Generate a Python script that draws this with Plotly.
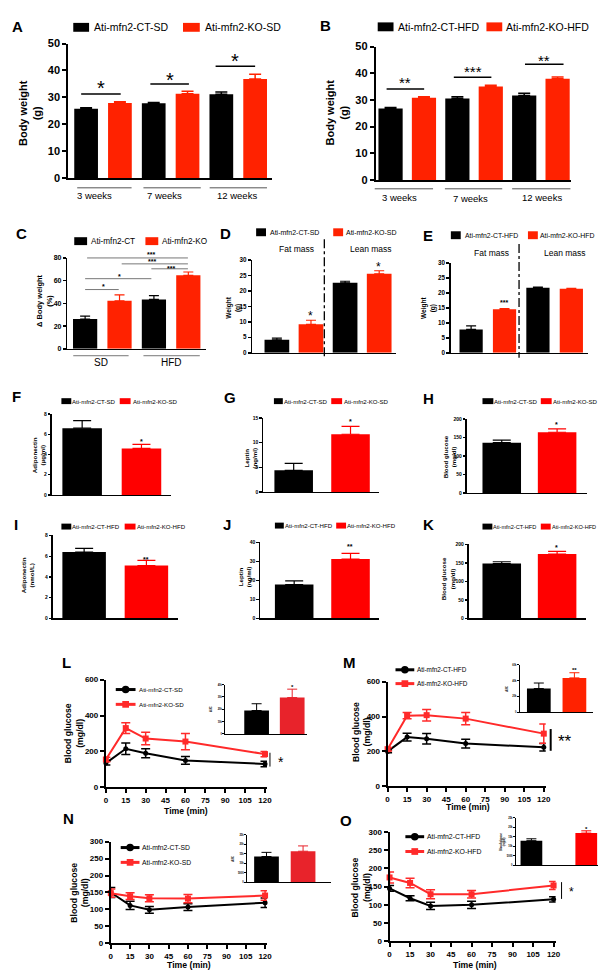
import plotly.graph_objects as go

# ---------------- data ----------------
week_labels = ["3 weeks", "7 weeks", "12 weeks"]
A_ct = [25.8, 27.8, 31.2]
A_ct_err = [0.3, 0.3, 0.8]
A_ko = [27.9, 31.3, 36.8]
A_ko_err = [0.5, 1.0, 1.8]
A_sig = ["*", "*", "*"]

B_ct = [26.8, 30.5, 31.7]
B_ct_err = [0.4, 0.7, 0.8]
B_ko = [30.8, 35.0, 37.9]
B_ko_err = [0.4, 0.5, 0.7]
B_sig = ["**", "***", "**"]

diet_labels = ["SD", "HFD"]
C_ct = [26.2, 43.5]
C_ct_err = [2.6, 3.4]
C_ko = [42.3, 64.7]
C_ko_err = [5.2, 2.9]

mass_labels = ["Fat mass", "Lean mass"]
D_ct = [4.2, 22.6]
D_ct_err = [0.5, 0.5]
D_ko = [9.2, 25.5]
D_ko_err = [1.3, 1.0]
D_sig = ["*", "*"]
E_ct = [7.8, 21.7]
E_ct_err = [1.2, 0.2]
E_ko = [14.5, 21.4]
E_ko_err = [0.2, 0.1]
E_sig = ["***", ""]

F_vals = [6.6, 4.6]
F_err = [0.75, 0.4]
G_vals = [4.4, 11.7]
G_err = [1.4, 1.6]
H_vals = [136, 164]
H_err = [7, 9]
I_vals = [6.4, 5.1]
I_err = [0.35, 0.5]
J_vals = [17.8, 31.2]
J_err = [1.9, 3.0]
K_vals = [148, 174]
K_err = [5, 7]

time_min = [0, 15, 30, 60, 120]
L_ct = [135, 215, 190, 150, 130]
L_ct_err = [10, 32, 25, 22, 15]
L_ko = [155, 330, 272, 255, 185]
L_ko_err = [12, 30, 35, 45, 15]
L_auc = [19000, 29500]
L_auc_err = [5500, 6800]

M_ct = [200, 282, 273, 245, 224]
M_ct_err = [8, 22, 30, 25, 22]
M_ko = [213, 405, 408, 388, 302]
M_ko_err = [10, 18, 33, 35, 55]
M_auc = [30000, 43500]
M_auc_err = [7000, 6500]

N_ct = [150, 112, 99, 107, 120]
N_ct_err = [15, 12, 10, 10, 14]
N_ko = [148, 139, 133, 132, 141]
N_ko_err = [12, 10, 10, 12, 14]
N_auc = [13500, 16300]
N_auc_err = [2200, 2800]

O_ct = [145, 118, 97, 100, 115]
O_ct_err = [8, 7, 10, 10, 7]
O_ko = [175, 160, 129, 129, 153]
O_ko_err = [15, 13, 12, 10, 11]
O_auc = [13000, 17000]
O_auc_err = [1000, 1200]

# ---------------- helpers ----------------
W, H = 606, 970
FONT = "Liberation Sans, Arial, Helvetica, sans-serif"
RED = "#FF2200"
RED2 = "#FF0000"

fig = go.Figure()
layout = {}
shapes = []
annotations = []


def PX(x):
    return x / W


def PY(y):
    return 1 - y / H


def add_axes(n, axx, axy, xr, yr, lw=1.5, ytickvals=None, yfs=6, ticklen=3,
             xtickvals=None, xfs=6, yticktext=None):
    xa = "xaxis" if n == 1 else "xaxis%d" % n
    ya = "yaxis" if n == 1 else "yaxis%d" % n
    xs = "x" if n == 1 else "x%d" % n
    ys = "y" if n == 1 else "y%d" % n
    xd = dict(domain=[PX(axx[0]), PX(axx[1])], range=xr, anchor=ys,
              showgrid=False, zeroline=False, showline=True, linecolor="black",
              linewidth=lw, fixedrange=True)
    if xtickvals is None:
        xd.update(ticks="", showticklabels=False)
    else:
        xd.update(ticks="outside", tickvals=xtickvals, ticklen=ticklen,
                  tickwidth=lw, tickcolor="black",
                  tickfont=dict(size=xfs, family=FONT, color="black", weight="bold"))
    yd = dict(domain=[PY(axy[0]), PY(axy[1])], range=yr, anchor=xs,
              showgrid=False, zeroline=False, showline=True, linecolor="black",
              linewidth=lw, fixedrange=True, ticks="outside", tickvals=ytickvals,
              ticklen=ticklen, tickwidth=lw, tickcolor="black",
              tickfont=dict(size=yfs, family=FONT, color="black", weight="bold"))
    if yticktext is not None:
        yd["ticktext"] = yticktext
    layout[xa] = xd
    layout[ya] = yd
    return xs, ys


def bar_panel(n, axx, axy, c0, pitch, wpx, yr, ytv, ct_pos, ct, ct_err, ko_pos, ko,
              ko_err, ko_color, lw=1.5, yfs=6, ticklen=3, cap=4, eth=1.5):
    xr = [(axx[0] - c0) / pitch, (axx[1] - c0) / pitch]
    xs, ys = add_axes(n, axx, axy, xr, yr, lw=lw, ytickvals=ytv, yfs=yfs, ticklen=ticklen)
    for pos, vals, errs, col in ((ct_pos, ct, ct_err, "black"), (ko_pos, ko, ko_err, ko_color)):
        fig.add_trace(go.Bar(
            x=pos, y=vals, width=wpx / pitch, marker=dict(color=col, line=dict(width=0)),
            error_y=dict(type="data", symmetric=False, array=errs,
                         arrayminus=[0] * len(errs), color=col, thickness=eth, width=cap),
            xaxis=xs, yaxis=ys, showlegend=False, hoverinfo="skip"))
    return xs, ys


def txt(x, y, s, fs, xanchor="center", bold=False, angle=0, color="black"):
    annotations.append(dict(
        x=PX(x), y=PY(y), xref="paper", yref="paper", text=s, showarrow=False,
        textangle=angle, xanchor=xanchor, yanchor="middle", borderpad=0,
        font=dict(size=fs, family=FONT, color=color, weight="bold" if bold else "normal")))


def star(x, y, s, fs, bold=False):
    txt(x, y + 0.23 * fs, s, fs, bold=bold)


def hline(x0, x1, y, color="black", w=1.0, dash="solid"):
    shapes.append(dict(type="line", xref="paper", yref="paper", x0=PX(x0), x1=PX(x1),
                       y0=PY(y), y1=PY(y), line=dict(color=color, width=w, dash=dash)))


def vline(x, y0, y1, color="black", w=1.0, dash="solid"):
    shapes.append(dict(type="line", xref="paper", yref="paper", x0=PX(x), x1=PX(x),
                       y0=PY(y0), y1=PY(y1), line=dict(color=color, width=w, dash=dash)))


def rect(x0, x1, y0, y1, color):
    shapes.append(dict(type="rect", xref="paper", yref="paper", x0=PX(x0), x1=PX(x1),
                       y0=PY(y0), y1=PY(y1), fillcolor=color, line=dict(width=0)))


def leg_bar(xb0, xb1, xt, y, h, color, label, fs):
    rect(xb0, xb1, y - h / 2, y + h / 2, color)
    txt(xt, y, label, fs, xanchor="left")


def leg_line(x0, x1, y, color, sym, label, xt, fs, r=3.5, lw=3):
    hline(x0, x1, y, color=color, w=lw)
    cx = (x0 + x1) / 2
    shapes.append(dict(type="circle" if sym == "circle" else "rect", xref="paper", yref="paper",
                       x0=PX(cx - r), x1=PX(cx + r), y0=PY(y - r), y1=PY(y + r),
                       fillcolor=color, line=dict(width=0)))
    txt(xt, y, label, fs, xanchor="left")


def line_panel(n, axx, axy, xr, yr, ytv, ct, ct_err, ko, ko_err, ko_color, fs=8, msz=5):
    xs, ys = add_axes(n, axx, axy, xr, yr, lw=2, ytickvals=ytv, yfs=fs, ticklen=4,
                      xtickvals=[0, 15, 30, 45, 60, 75, 90, 105, 120], xfs=fs)
    for vals, errs, col, sym, sz in ((ct, ct_err, "black", "circle", msz),
                                     (ko, ko_err, ko_color, "square", msz + 1)):
        fig.add_trace(go.Scatter(
            x=time_min, y=vals, mode="lines+markers", cliponaxis=False,
            line=dict(color=col, width=2), marker=dict(color=col, symbol=sym, size=sz),
            error_y=dict(type="data", array=errs, color=col, thickness=1.5, width=4.5),
            xaxis=xs, yaxis=ys, showlegend=False, hoverinfo="skip"))
    return xs, ys


# ---------------- Panel A ----------------
txt(8, 13, "A", 15, bold=True)
bar_panel(1, (59, 265), (166, 30), 77, 34.2, 24, [0, 50], [0, 10, 20, 30, 40, 50],
          [0, 2, 4], A_ct, A_ct_err, [1, 3, 5], A_ko, A_ko_err, RED,
          lw=2, yfs=11, ticklen=4, cap=6, eth=1.5)
leg_bar(64, 80, 84, 13.5, 9, "black", "Ati-mfn2-CT-SD", 10.5)
leg_bar(175, 192, 196, 13.5, 9, RED, "Ati-mfn2-KO-SD", 10.5)
txt(19.5, 100, "Body weight<br>(g)", 11, bold=True, angle=-90)
for (x0, x1), lab, lx in zip([(68, 123), (135, 193), (202, 260)], week_labels, [85, 156, 230]):
    hline(x0, x1, 176, color="#555555", w=1)
    txt(lx, 184, lab, 9.5)
for (x0, x1, ly), s, sy in zip([(72, 112, 81), (142, 181, 71), (208, 248, 53)], A_sig, [70, 62, 43]):
    hline(x0, x1, ly, w=1.5)
    star((x0 + x1) / 2, sy, s, 20)

# ---------------- Panel B ----------------
txt(319, 12, "B", 15, bold=True)
bar_panel(2, (370, 568), (168, 33), 385, 33.8, 24.5, [0, 50], [0, 10, 20, 30, 40, 50],
          [0, 2, 4], B_ct, B_ct_err, [1, 3, 5], B_ko, B_ko_err, RED,
          lw=2, yfs=11, ticklen=4, cap=6, eth=1.5)
leg_bar(372, 388, 392, 13, 9, "black", "Ati-mfn2-CT-HFD", 10.5)
leg_bar(482, 498, 501, 13, 9, RED, "Ati-mfn2-KO-HFD", 10.5)
txt(330.5, 100, "Body weight<br>(g)", 11, bold=True, angle=-90)
for (x0, x1), lab, lx, ly in zip([(369, 428), (440, 498), (508, 567)], week_labels,
                                 [394, 466, 538], [186, 187, 186]):
    hline(x0, x1, 177, color="#555555", w=1)
    txt(lx, ly, lab, 9.5)
for (x0, x1, ly), s, sy in zip([(381, 419, 76), (449, 487, 64), (521, 560, 51)], B_sig, [66, 55, 44]):
    hline(x0, x1, ly, w=1.5)
    star((x0 + x1) / 2, sy, s, 15)

# ---------------- Panel C ----------------
txt(12, 222, "C", 15, bold=True)
bar_panel(3, (58, 198), (339, 247), 76, 34.8, 24.5, [0, 80], [0, 20, 40, 60, 80],
          [0, 2], C_ct, C_ct_err, [1, 3], C_ko, C_ko_err, RED,
          lw=1.5, yfs=7, ticklen=3, cap=5, eth=1.2)
leg_bar(65, 78, 81, 230, 8, "black", "Ati-mfn2-CT", 8.2)
leg_bar(137, 150, 153, 230, 8, RED, "Ati-mfn2-KO", 8.2)
txt(35, 290, "Δ Body weight<br>(%)", 7.5, bold=True, angle=-90)
for (x0, x1), lab, lx in zip([(64, 120), (135, 192)], diet_labels, [92, 163]):
    hline(x0, x1, 346, color="#777777", w=1)
    txt(lx, 353, lab, 10)
for x0, x1, ly, s, sx, sy in [(78, 180, 247, "***", 143, 242), (113, 180, 253, "***", 144, 249),
                              (143, 180, 258, "***", 163, 256), (76, 143, 268, "*", 111, 264),
                              (76, 110, 279, "*", 95, 274)]:
    hline(x0, x1, ly, color="#777777", w=1)
    star(sx, sy, s, 7, bold=True)

# ---------------- Panel D ----------------
txt(218, 222, "D", 15, bold=True)
bar_panel(4, (245, 391), (343, 249), 270, 34.5, 25, [0, 30], [0, 5, 10, 15, 20, 25, 30],
          [0, 2], D_ct, D_ct_err, [1, 3], D_ko, D_ko_err, RED,
          lw=1.5, yfs=6.3, ticklen=3, cap=5, eth=1.2)
leg_bar(249, 259, 262, 221, 8, "black", "Ati-mfn2-CT-SD", 7)
leg_bar(327, 337, 339, 221, 8, RED, "Ati-mfn2-KO-SD", 7)
txt(226, 297, "Weight<br>(g)", 6.5, bold=True, angle=-90)
vline(318, 228, 348, w=1.3, dash="dashdot")
for lab, lx in zip(mass_labels, [290, 365]):
    txt(lx, 238, lab, 8.5)
for s, sx, sy in zip(D_sig, [304, 373], [303, 253]):
    star(sx, sy, s, 12)

# ---------------- Panel E ----------------
txt(423, 224, "E", 15, bold=True)
bar_panel(5, (446, 585), (343, 252), 466.5, 33.8, 23.5, [0, 30], [0, 5, 10, 15, 20, 25, 30],
          [0, 2], E_ct, E_ct_err, [1, 3], E_ko, E_ko_err, RED,
          lw=1.5, yfs=6.3, ticklen=3, cap=5, eth=1.2)
leg_bar(446, 456, 459, 224, 8, "black", "Ati-mfn2-CT-HFD", 6.9)
leg_bar(524, 534, 535, 224, 8, RED, "Ati-mfn2-KO-HFD", 6.9)
txt(423.5, 298, "Weight<br>(g)", 6.5, bold=True, angle=-90)
vline(515, 233, 348, w=1.3, dash="dashdot")
for lab, lx in zip(mass_labels, [487, 561]):
    txt(lx, 242, lab, 8.5)
for s, sx, sy in zip(E_sig, [499.5, 568], [291, 270]):
    if s:
        star(sx, sy, s, 7, bold=True)

# ---------------- Panels F-K ----------------
small = [
    # n, letter, lx, ly, axx, axy, c0, pitch, wpx, yr, ticks, vals, err, ko_col, leg, title, tx, ty, sig, sx, sy
    (6, "F", 7, 387, (42, 163), (487, 405), 73, 60, 40, [0, 8], [0, 2, 4, 6, 8], F_vals, F_err,
     RED2, (52, 62, 62, 111, 122, 123, 392, "SD", 6.1), "Adiponectin<br>(µg/ml)", 29, 447, "*", 133, 431),
    (7, "G", 223, 388, (256, 373), (484, 409), 287, 57.5, 39, [0, 15], [0, 5, 10, 15], G_vals, G_err,
     RED2, (267, 276, 276, 325, 336, 337, 392, "SD", 6.1), "Leptin<br>(ng/ml)", 243, 450, "*", 344, 411),
    (8, "H", 423, 389, (462, 584), (485, 410), 497.5, 56, 39, [0, 200], [0, 50, 100, 150, 200], H_vals,
     H_err, RED2, (478, 489, 489, 537, 548, 548, 392, "SD", 6.1), "Blood glucose<br>(mg/dl)", 445, 448,
     "*", 553, 414),
    (9, "I", 6, 517, (43, 170), (612, 528), 75, 63, 44, [0, 8], [0, 2, 4, 6, 8], I_vals, I_err,
     RED2, (52, 62, 62, 116, 127, 127, 519, "HFD", 6.1), "Adiponectin<br>(nmol/L)", 18.5, 568, "**", 138, 551),
    (10, "J", 220, 517, (253, 373), (612, 535), 287.5, 57, 39, [0, 40], [0, 10, 20, 30, 40], J_vals,
     J_err, RED2, (268, 277, 277, 330, 340, 340, 518, "HFD", 6.1), "Leptin<br>(ng/ml)", 238, 570, "**",
     344, 538),
    (11, "K", 423, 517, (464, 583), (612, 537), 497.5, 56, 39, [0, 200], [0, 50, 100, 150, 200], K_vals,
     K_err, RED2, (478, 488, 488, 537, 547, 547, 519, "HFD", 5.6), "Blood glucose<br>(mg/dl)", 443.5, 572,
     "*", 553, 539),
]
for (n, letter, lx, ly, axx, axy, c0, pitch, wpx, yr, ticks, vals, err, kcol, leg, title, tx, ty,
     sig, sx, sy) in small:
    txt(lx, ly, letter, 15, bold=True)
    bar_panel(n, axx, axy, c0, pitch, wpx, yr, ticks, [0], vals[:1], err[:1], [1], vals[1:],
              err[1:], kcol, lw=1.3, yfs=5, ticklen=2.5, cap=9, eth=1.2)
    b0, b1, t0, r0, r1, t1, yy, diet, lfs = leg
    leg_bar(b0, b1, t0, yy, 6, "black", "Ati-mfn2-CT-" + diet, lfs)
    leg_bar(r0, r1, t1, yy, 6, kcol, "Ati-mfn2-KO-" + diet, lfs)
    txt(tx, ty, title, 6.2, bold=True, angle=-90)
    star(sx, sy, sig, 7, bold=True)

# ---------------- Panels L-O ----------------
auc_ticks = {
    "L": [0, 10000, 20000, 30000, 40000],
    "M": [0, 20000, 40000, 60000],
    "N": [0, 5000, 10000, 15000, 20000, 25000],
    "O": [0, 5000, 10000, 15000, 20000, 25000],
}
lines = [
    ("L", 57, 657, 12, (97, 260), (783, 674), [0, 600], [0, 200, 400, 600], L_ct, L_ct_err, L_ko,
     L_ko_err, "#FF2A2A", 65, 728, 178, 807, (107, 127, 130, 684, 699, 6.2, "SD"),
     (13, (218, 300), (729, 679), 249.5, 36, 25, 40000, L_auc, L_auc_err, "#E8232B", "*", 285.5, 680, "AUC")),
    ("M", 343, 657, 14, (382, 542), (782, 676), [0, 600], [0, 200, 400, 600], M_ct, M_ct_err, M_ko,
     M_ko_err, "#FF2A2A", 355, 727, 463, 803, (390, 409, 411, 664, 678, 6.4, "HFD"),
     (15, (516, 590), (707, 659), 535, 36, 24, 60000, M_auc, M_auc_err, RED, "**", 571, 663, "AUC")),
    ("N", 59, 815, 16, (102, 260), (941, 838), [0, 300], [0, 50, 100, 150, 200, 250, 300], N_ct,
     N_ct_err, N_ko, N_ko_err, "#FF2A2A", 70.5, 890, 181, 963, (112, 131, 133, 844, 859, 6.8, "SD"),
     (17, (240, 325), (879, 831), 259.5, 37, 25, 25000, N_auc, N_auc_err, "#E8232B", "", 296, 836, "AUC")),
    ("O", 340, 817, 18, (384, 552), (939, 828), [0, 300], [0, 50, 100, 150, 200, 250, 300], O_ct,
     O_ct_err, O_ko, O_ko_err, "#FF2A2A", 354.5, 884, 470, 963, (400, 419, 421, 833, 848, 6.9, "HFD"),
     (19, (512, 601), (862, 814), 527.5, 55.5, 22, 25000, O_auc, O_auc_err, RED2, "*", 583, 824,
      "Blood glucose<br>(mg/dl)")),
]
for (letter, lx, ly, n, axx, axy, yr, ytv, ct, cte, ko, koe, kcol, tx, ty, timex, timey, leg,
     inset) in lines:
    txt(lx, ly, letter, 15, bold=True)
    line_panel(n, axx, axy, [0, 121.5], yr, ytv, ct, cte, ko, koe, kcol, fs=8, msz=5)
    txt(tx, ty, "Blood glucose<br>(mg/dl)", 8.7, bold=True, angle=-90)
    txt(timex, timey, "Time (min)", 8.7, bold=True)
    x0, x1, xt, yct, yko, lfs, diet = leg
    leg_line(x0, x1, yct, "black", "circle", "Ati-mfn2-CT-" + diet, xt, lfs, r=3.8)
    leg_line(x0, x1, yko, kcol, "square", "Ati-mfn2-KO-" + diet, xt, lfs, r=3.4)
    (inn, iaxx, iaxy, ic0, ipitch, iw, ymax, auc, auce, icol, isig, isx, isy, ititle) = inset
    bar_panel(inn, iaxx, iaxy, ic0, ipitch, iw, [0, ymax], auc_ticks[letter], [0], auc[:1],
              auce[:1], [1], auc[1:], auce[1:], icol, lw=1, yfs=2.6, ticklen=2, cap=5, eth=1)
    txt(iaxx[0] - 14, (iaxy[0] + iaxy[1]) / 2, ititle, 2.6, bold=True, angle=-90)
    if isig:
        star(isx, isy, isig, 6, bold=True)

# significance bars beside the curves
vline(263, 748, 762, w=1)
star(274, 754, "*", 14)
vline(547, 724, 746, w=2)
star(561, 733, "**", 17)
vline(558, 879, 896, w=1)
star(568, 886, "*", 12)

fig.update_layout(
    width=W, height=H, margin=dict(l=0, r=0, t=0, b=0),
    paper_bgcolor="white", plot_bgcolor="rgba(0,0,0,0)",
    showlegend=False, barmode="overlay",
    shapes=shapes, annotations=annotations,
    font=dict(family=FONT, color="black"),
    **layout,
)
fig.write_html("out.html", config={"displayModeBar": False, "staticPlot": True})
